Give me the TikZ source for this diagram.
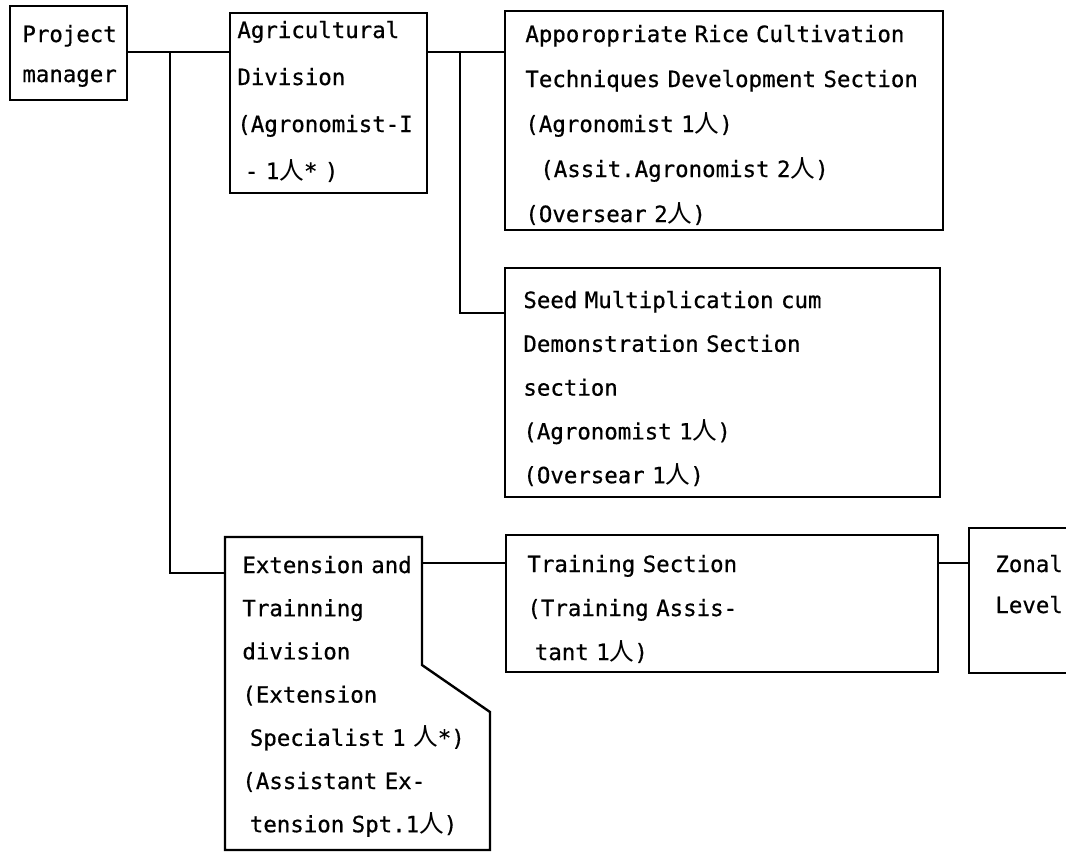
\documentclass[tikz,border=0pt]{standalone}
\usepackage{fontspec}
\newfontfamily\monofam[FakeBold=0.6]{DejaVu Sans Mono}
\newfontfamily\jpfam[Scale=1.1]{Noto Sans CJK JP}
\newcommand\hito{{\jpfam 人}}
\usetikzlibrary{fit}
\begin{document}
\begin{tikzpicture}[x=0.5pt,y=-0.5pt,
  box/.style={draw, line width=1.2pt, inner sep=0pt},
  txt/.style={anchor=base west, inner sep=0pt, text width=220pt, align=left,
              font=\monofam\fontsize{11.2pt}{#1}\selectfont},
  wire/.style={line width=1.2pt}]
\useasboundingbox (0,0) rectangle (1066,853);
\fill[white] (0,0) rectangle (1066,853);

% boxes
\node[box, fit={(10,6) (127,100)}] (pm) {};
\node[box, fit={(230,13) (427,193)}] (agri) {};
\node[box, fit={(505,11) (943,230)}] (rice) {};
\node[box, fit={(505,268) (940,497)}] (seed) {};
\node[box, fit={(506,535) (938,672)}] (train) {};

% extension box (notched)
\coordinate (e1) at (225,537);
\coordinate (e2) at (422,537);
\coordinate (e3) at (422,665);
\coordinate (e4) at (490,712);
\coordinate (e5) at (490,850);
\coordinate (e6) at (225,850);
\draw[wire] (e1) -- (e2) -- (e3) -- (e4) -- (e5) -- (e6) -- cycle;

% zonal box (cut by the edge)
\coordinate (z1) at (1066,528);
\coordinate (z2) at (969,528);
\coordinate (z3) at (969,673);
\coordinate (z4) at (1066,673);
\draw[wire] (z1) -- (z2) -- (z3) -- (z4);

% texts
\node[txt=20pt] (pmT) at (22,42) {Project\\manager};
\node[txt=23.5pt] (agriT) at (237,38) {Agricultural\\Division\\(Agronomist-I\\~- 1\hito* )};
\node[txt=22.5pt] (riceT) at (525,42) {Apporopriate Rice Cultivation\\Techniques Development Section\\(Agronomist 1\hito)\\~~(Assit.Agronomist 2\hito)\\(Oversear 2\hito)};
\node[txt=21.9pt] (seedT) at (523,308) {Seed Multiplication cum\\Demonstration Section\\section\\(Agronomist 1\hito)\\(Oversear 1\hito)};
\node[txt=21.6pt] (extT) at (242,573) {Extension and\\Trainning\\division\\(Extension\\~Specialist 1 \hito*)\\(Assistant Ex-\\~tension Spt.1\hito)};
\node[txt=22pt] (trainT) at (527,572) {Training Section\\(Training Assis-\\~tant 1\hito)};
\node[txt=20.5pt] (zonalT) at (995,572) {Zonal\\Level};

% connectors
\coordinate (j1) at (170,52);
\coordinate (j1b) at (170,573);
\coordinate (extL) at (225,573);
\draw[wire] (pm.east |- j1) -- (agri.west |- j1);
\draw[wire] (j1) -- (j1b) -- (extL);

\coordinate (j2) at (460,52);
\coordinate (j3) at (460,313);
\draw[wire] (agri.east |- j2) -- (rice.west |- j2);
\draw[wire] (j2) -- (j3) -- (seed.west |- j3);

\coordinate (k1) at (422,563);
\draw[wire] (k1) -- (train.west |- k1);
\draw[wire] (train.east |- k1) -- (z2 |- k1);
\end{tikzpicture}
\end{document}
